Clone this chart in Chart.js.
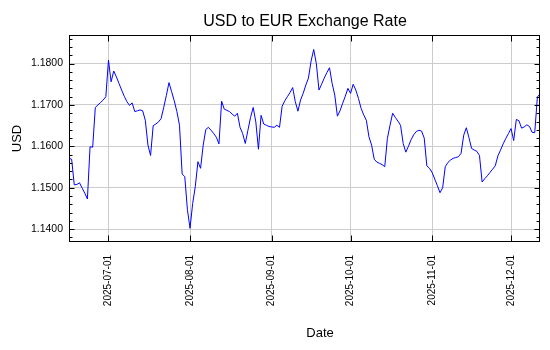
<!DOCTYPE html>
<html>
  <head>
    <title>USD to EUR Exchange Rate</title>
    <script src="https://cdn.jsdelivr.net/npm/chart.js@4.4.1/dist/chart.umd.min.js"></script>
    <style>
      body { margin: 0; background: #fff; }
    </style>
  </head>

  <body>
    <canvas id="canvas" width="550" height="350"></canvas>
    <script>
      // daily rates, one value per calendar day starting at startDate
      const startDate = '2025-06-16';
      const rates = [
        // Jun 16-30
        1.1571, 1.1569, 1.1507, 1.1508, 1.1512, 1.1499, 1.1487, 1.1473, 1.1599, 1.1598,
        1.1694, 1.1700, 1.1706, 1.1712, 1.1720,
        // Jul
        1.1808, 1.1756, 1.1782, 1.1768, 1.1752, 1.1736, 1.1721, 1.1708, 1.1699, 1.1705,
        1.1684, 1.1686, 1.1688, 1.1686, 1.1663, 1.1603, 1.1578, 1.1650, 1.1654, 1.1659,
        1.1667, 1.1694, 1.1723, 1.1754, 1.1732, 1.1710, 1.1684, 1.1651, 1.1533, 1.1527,
        1.1447,
        // Aug
        1.1402, 1.1462, 1.1503, 1.1563, 1.1547, 1.1603, 1.1641, 1.1646, 1.1639, 1.1631,
        1.1622, 1.1606, 1.1709, 1.1690, 1.1687, 1.1684, 1.1678, 1.1673, 1.1680, 1.1646,
        1.1631, 1.1607, 1.1639, 1.1670, 1.1694, 1.1659, 1.1593, 1.1675, 1.1654, 1.1651,
        1.1648,
        // Sep
        1.1647, 1.1646, 1.1651, 1.1646, 1.1697, 1.1710, 1.1720, 1.1730, 1.1742, 1.1708,
        1.1685, 1.1712, 1.1728, 1.1748, 1.1765, 1.1806, 1.1834, 1.1800, 1.1736, 1.1750,
        1.1765, 1.1778, 1.1790, 1.1752, 1.1724, 1.1673, 1.1686, 1.1704, 1.1721, 1.1740,
        // Oct
        1.1728, 1.1750, 1.1736, 1.1716, 1.1692, 1.1676, 1.1663, 1.1623, 1.1603, 1.1569,
        1.1562, 1.1559, 1.1556, 1.1551, 1.1619, 1.1651, 1.1680, 1.1670, 1.1661, 1.1651,
        1.1607, 1.1586, 1.1600, 1.1616, 1.1628, 1.1636, 1.1639, 1.1637, 1.1620, 1.1553,
        1.1547,
        // Nov
        1.1537, 1.1521, 1.1505, 1.1488, 1.1500, 1.1551, 1.1561, 1.1567, 1.1571, 1.1573,
        1.1575, 1.1583, 1.1627, 1.1645, 1.1621, 1.1595, 1.1591, 1.1588, 1.1578, 1.1514,
        1.1522, 1.1529, 1.1537, 1.1545, 1.1553, 1.1577, 1.1591, 1.1606, 1.1619, 1.1631,
        // Dec 1-12
        1.1643, 1.1614, 1.1665, 1.1662, 1.1644, 1.1647, 1.1652, 1.1648, 1.1634, 1.1633,
        1.1719, 1.1727
      ];
      const monthTicks = ['2025-07-01', '2025-08-01', '2025-09-01', '2025-10-01', '2025-11-01', '2025-12-01'];
      const rateTicks = [1.14, 1.15, 1.16, 1.17, 1.18];

      const DAY = 86400000;
      const toDay = (s) => Date.parse(s + 'T00:00:00Z') / DAY;
      const fmtDay = (d) => new Date(Math.round(d) * DAY).toISOString().slice(0, 10);

      const day0 = toDay(startDate);
      const points = rates.map((r, i) => ({ x: day0 + i, y: r }));

      Chart.defaults.font.family = '"Liberation Sans", Arial, sans-serif';
      Chart.defaults.color = '#000';

      // frame, inward tick marks and the three titles
      const decorations = {
        id: 'decorations',
        afterDraw(chart) {
          const { ctx, chartArea: a, scales } = chart;
          const l = Math.round(a.left) + 0.5, r = Math.round(a.right) - 0.5;
          const t = Math.round(a.top) + 0.5, b = Math.round(a.bottom) - 0.5;
          ctx.save();
          ctx.strokeStyle = '#000';
          ctx.lineWidth = 1;
          ctx.strokeRect(l, t, r - l, b - t);
          ctx.beginPath();
          for (let v = 1.138; v <= scales.y.max; v += 0.002) {
            const y = Math.round(scales.y.getPixelForValue(v)) + 0.5;
            const major = Math.abs(v * 100 - Math.round(v * 100)) < 1e-6;
            const len = major ? 5 : 3;
            ctx.moveTo(l, y); ctx.lineTo(l + len, y);
            ctx.moveTo(r, y); ctx.lineTo(r - len, y);
          }
          monthTicks.forEach((m) => {
            const x = Math.round(scales.x.getPixelForValue(toDay(m))) + 0.5;
            ctx.moveTo(x, b); ctx.lineTo(x, b - 6);
            ctx.moveTo(x, t); ctx.lineTo(x, t + 6);
          });
          ctx.stroke();

          ctx.fillStyle = '#000';
          ctx.textAlign = 'center';
          ctx.textBaseline = 'alphabetic';
          ctx.font = '16px "Liberation Sans", Arial, sans-serif';
          ctx.fillText('USD to EUR Exchange Rate', 305, 26);
          ctx.font = '13px "Liberation Sans", Arial, sans-serif';
          ctx.fillText('Date', 320, 337);
          ctx.translate(21, (a.top + a.bottom) / 2);
          ctx.rotate(-Math.PI / 2);
          ctx.fillText('USD', 0, 0);
          ctx.restore();
        }
      };

      window.onload = () => {
        const ctx = document.getElementById('canvas').getContext('2d');
        new Chart(ctx, {
          type: 'line',
          data: {
            datasets: [{
              label: 'USD/EUR',
              data: points,
              borderColor: '#0000ff',
              borderWidth: 1,
              pointRadius: 0,
              tension: 0,
              fill: false,
            }],
          },
          options: {
            responsive: false,
            animation: false,
            layout: { padding: { top: 35, right: 10, left: 0, bottom: 0 } },
            plugins: {
              legend: { display: false },
              title: { display: false },
              tooltip: { enabled: false },
            },
            scales: {
              x: {
                type: 'linear',
                min: day0,
                max: day0 + rates.length - 1,
                afterBuildTicks: (s) => { s.ticks = monthTicks.map((m) => ({ value: toDay(m) })); },
                afterFit: (s) => { s.height = 108; },
                ticks: {
                  autoSkip: false,
                  minRotation: 90,
                  maxRotation: 90,
                  padding: 13,
                  font: { size: 10 },
                  callback: (v) => fmtDay(v),
                },
                grid: { color: '#cccccc', drawTicks: false },
                border: { display: false },
              },
              y: {
                min: 1.1369,
                max: 1.1869,
                afterBuildTicks: (s) => { s.ticks = rateTicks.map((v) => ({ value: v })); },
                afterFit: (s) => { s.width = 69; },
                ticks: {
                  padding: 6,
                  font: { size: 10.5 },
                  callback: (v) => v.toFixed(4),
                },
                grid: { color: '#cccccc', drawTicks: false },
                border: { display: false },
              },
            },
          },
          plugins: [decorations],
        });
      };
    </script>
  </body>
</html>
